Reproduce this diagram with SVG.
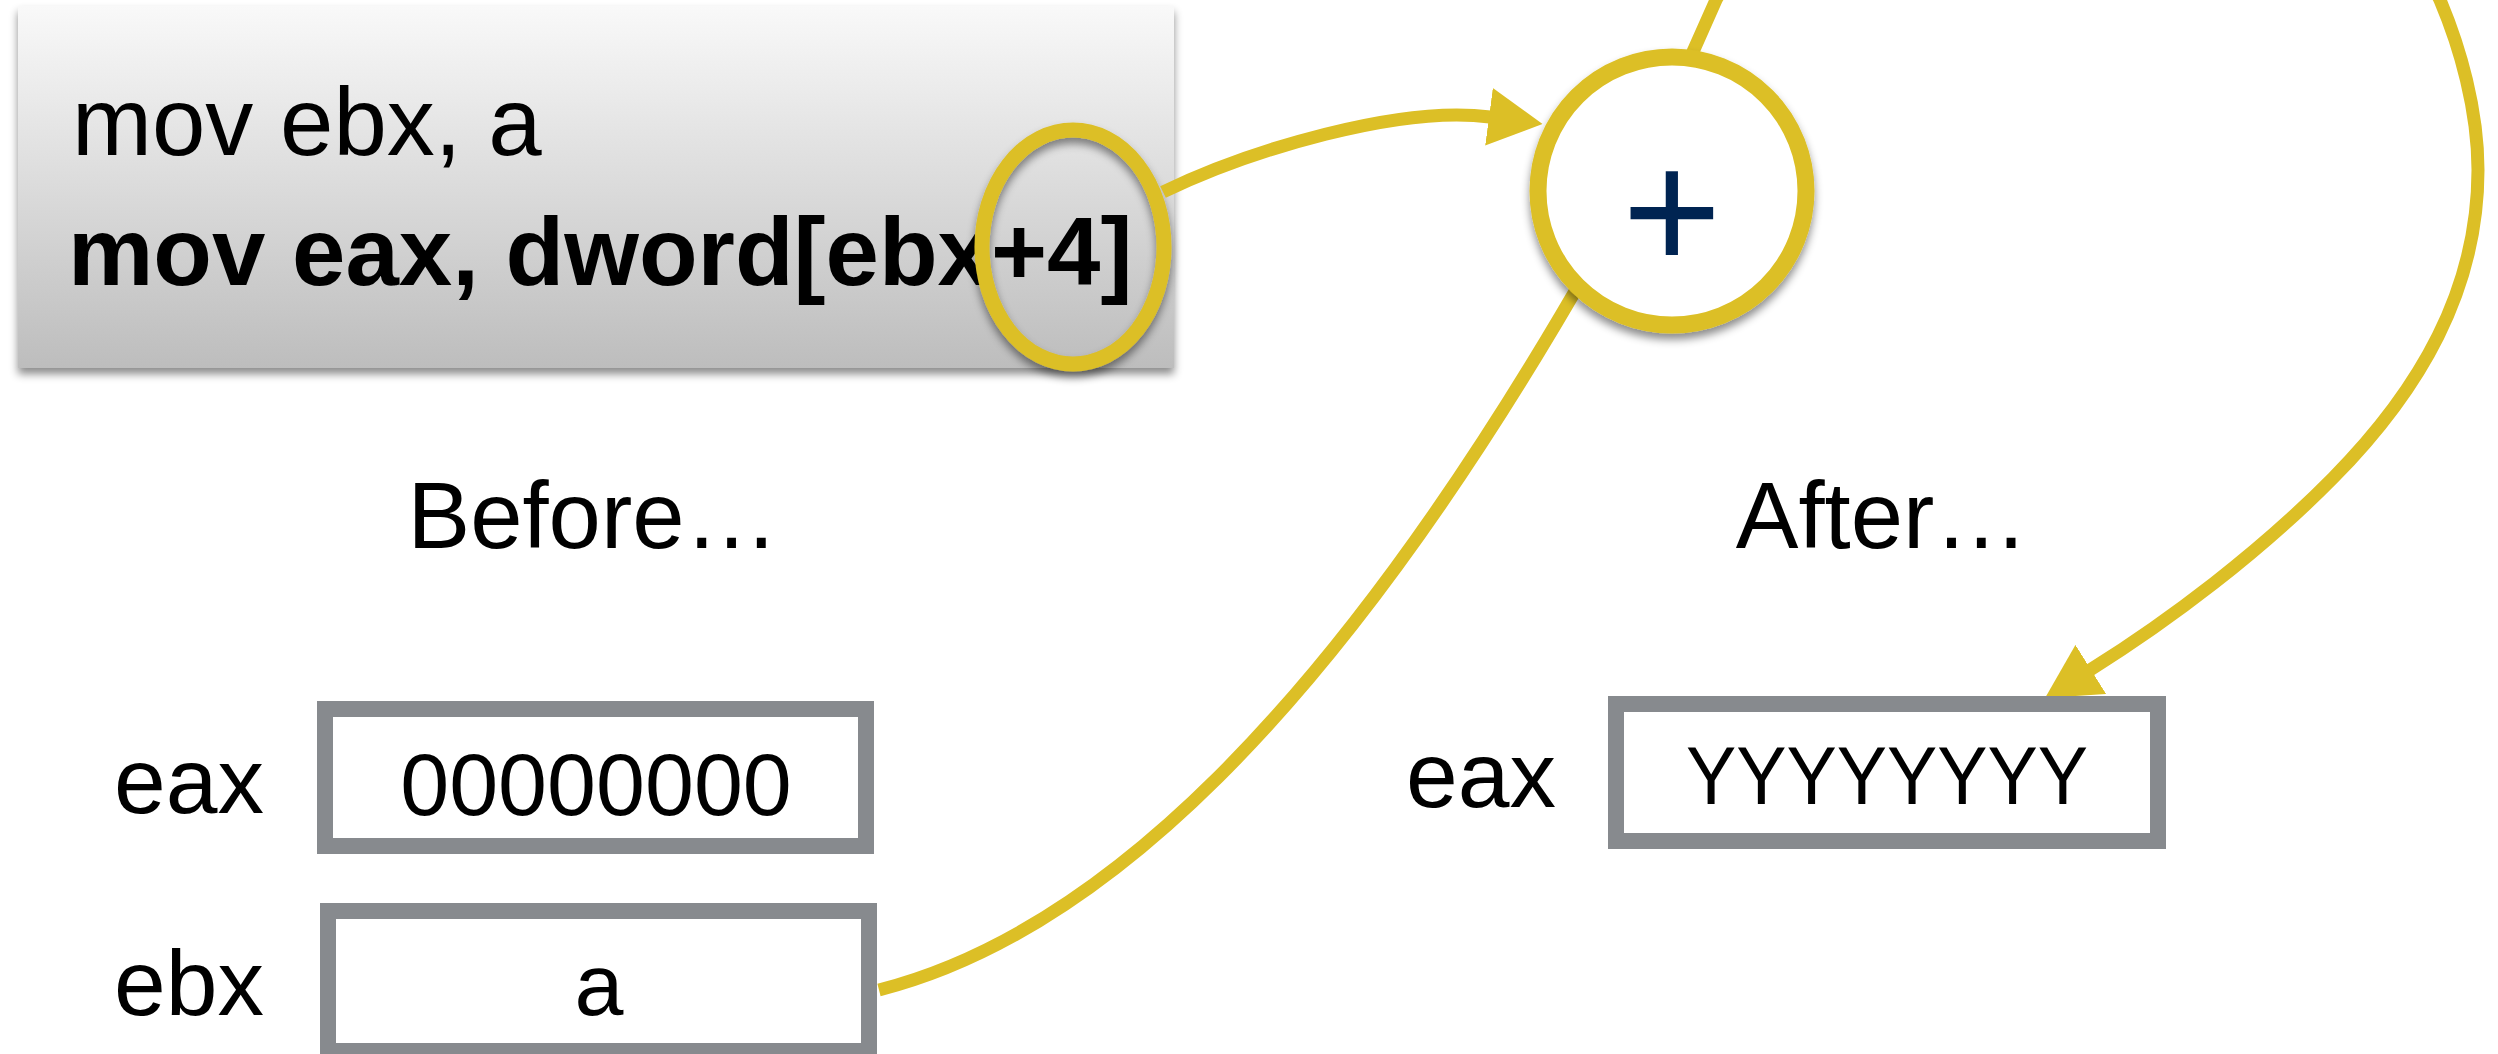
<svg xmlns="http://www.w3.org/2000/svg" width="2498" height="1054" viewBox="0 0 2498 1054">
  <defs>
    <linearGradient id="codeGrad" x1="0" y1="0" x2="0" y2="1">
      <stop offset="0" stop-color="#f9f9f9"/>
      <stop offset="1" stop-color="#bdbdbd"/>
    </linearGradient>
    <filter id="shadow" x="-10%" y="-10%" width="120%" height="130%">
      <feDropShadow dx="0" dy="6" stdDeviation="4" flood-color="#000" flood-opacity="0.45"/>
    </filter>
    <marker id="arrow" viewBox="0 0 54 58" markerWidth="54" markerHeight="58" markerUnits="userSpaceOnUse" refX="1" refY="29" orient="auto">
      <path d="M0,0 L54,29 L0,58 Z" fill="#dcbf26"/>
    </marker>
    <style>
      .txt { font-family: "Liberation Sans", Arial, sans-serif; fill: #000; }
      .reg { fill: #fff; stroke: #878a8e; stroke-width: 16; }
      .conn { fill: none; stroke: #dcbf26; stroke-width: 13; }
    </style>
  </defs>
  <rect width="2498" height="1054" fill="#fff"/>

  <g id="code">
    <rect x="18" y="6" width="1156" height="362" fill="url(#codeGrad)" filter="url(#shadow)"/>
    <text class="txt" x="72" y="155" font-size="96">mov ebx, a</text>
    <text class="txt" x="68" y="285" font-size="96" font-weight="bold">mov eax, dword[ebx+4]</text>
    <ellipse cx="1073" cy="247" rx="91" ry="117" fill="none" stroke="#dcbf26" stroke-width="15" filter="url(#shadow)"/>
  </g>

  <g id="connectors">
    <path class="conn" d="M1163,192 C1250,150 1400,105 1490,117" marker-end="url(#arrow)"/>
    <path class="conn" d="M879,990 C1095,935 1330,720 1592,262"/>
    <path class="conn" d="M1684,72 L1716,0 C1745,-70 2390,-110 2440,0 C2460,47 2478,110 2478,170 C2478,290 2420,390 2333,478 C2260,552 2170,620 2090,670" marker-end="url(#arrow)"/>
  </g>

  <g id="adder">
    <circle cx="1672" cy="191" r="134" fill="#fff" stroke="#dcbf26" stroke-width="17" filter="url(#shadow)"/>
    <text x="1672" y="270" font-size="170" text-anchor="middle" font-family="Liberation Sans, Arial, sans-serif" fill="#002452">+</text>
  </g>

  <g id="before-label">
    <text class="txt" x="593" y="548" font-size="94" text-anchor="middle">Before…</text>
  </g>
  <g id="after-label">
    <text class="txt" x="1882" y="548" font-size="94" text-anchor="middle">After…</text>
  </g>

  <g id="before-eax">
    <text class="txt" x="114" y="813" font-size="93">eax</text>
    <rect class="reg" x="325" y="709" width="541" height="137"/>
    <text class="txt" x="596" y="815" font-size="88" text-anchor="middle">00000000</text>
  </g>

  <g id="before-ebx">
    <text class="txt" x="114" y="1015" font-size="93">ebx</text>
    <rect class="reg" x="328" y="911" width="541" height="140"/>
    <text class="txt" x="599" y="1015" font-size="88" text-anchor="middle">a</text>
  </g>

  <g id="after-eax">
    <text class="txt" x="1406" y="807" font-size="93">eax</text>
    <rect class="reg" x="1616" y="704" width="542" height="137"/>
    <text class="txt" x="1887" y="804" font-size="82" text-anchor="middle" textLength="402" lengthAdjust="spacingAndGlyphs">YYYYYYYY</text>
  </g>
</svg>
